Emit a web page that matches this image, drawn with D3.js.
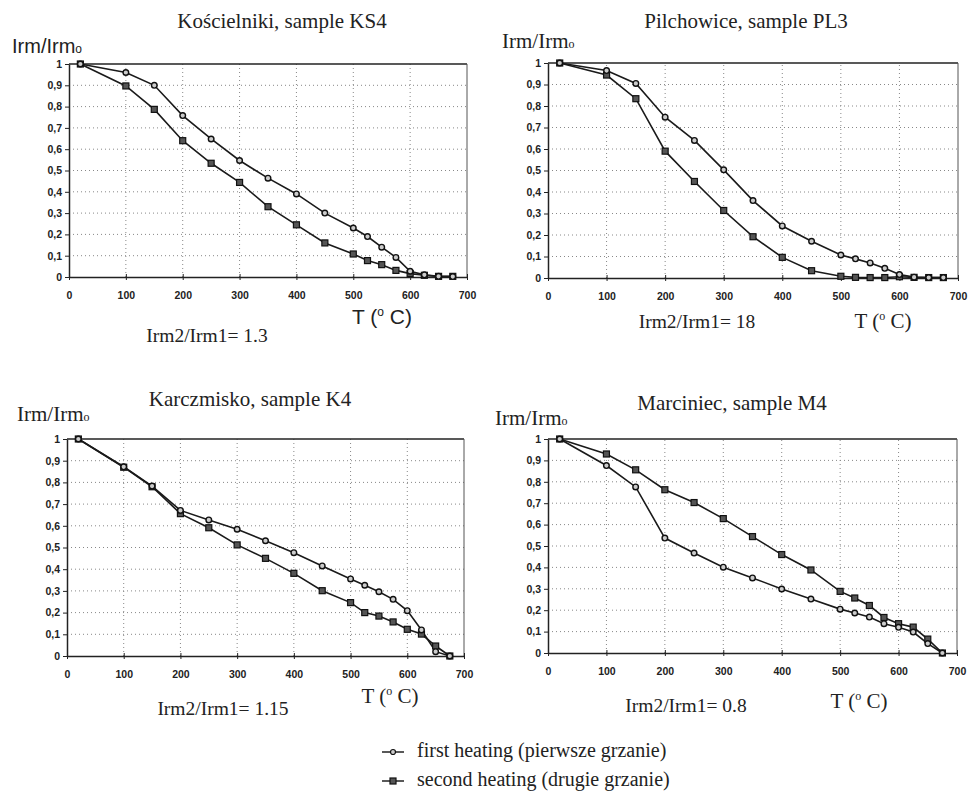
<!DOCTYPE html>
<html>
<head>
<meta charset="utf-8">
<script src="https://cdn.jsdelivr.net/npm/d3@7"></script>
<style>
  body { margin: 0; background: #fff; }
  svg { display: block; }
  .serif { font-family: "Liberation Serif", "Times New Roman", serif; fill: #222; }
  .sans { font-family: "Liberation Sans", Arial, sans-serif; fill: #222; }
  .tick text { font-family: "Liberation Sans", Arial, sans-serif; font-weight: bold; font-size: 10.5px; fill: #222; }
</style>
</head>
<body>
<svg id="chart" width="968" height="791"></svg>
<script>
// temperatures of the heating steps (deg C)
const temps = [20, 100, 150, 200, 250, 300, 350, 400, 450, 500, 525, 550, 575, 600, 625, 650, 675];

// Koscielniki KS4
const ks4First  = [1, 0.96, 0.90, 0.758, 0.648, 0.547, 0.464, 0.39, 0.30, 0.23, 0.19, 0.14, 0.092, 0.027, 0.01, 0.003, 0.002];
const ks4Second = [1, 0.897, 0.787, 0.64, 0.534, 0.444, 0.33, 0.245, 0.16, 0.108, 0.077, 0.058, 0.031, 0.016, 0.008, 0.003, 0.003];

// Pilchowice PL3
const pl3First  = [1, 0.965, 0.905, 0.748, 0.64, 0.503, 0.36, 0.242, 0.171, 0.107, 0.089, 0.07, 0.045, 0.016, 0.004, 0.002, 0.002];
const pl3Second = [1, 0.944, 0.834, 0.59, 0.449, 0.314, 0.192, 0.096, 0.034, 0.008, 0.003, 0.002, 0.002, 0.006, 0.003, 0.002, 0.002];

// Karczmisko K4
const k4First  = [1, 0.872, 0.783, 0.671, 0.627, 0.584, 0.531, 0.476, 0.415, 0.355, 0.326, 0.296, 0.261, 0.209, 0.12, 0.02, 0];
const k4Second = [1, 0.87, 0.78, 0.656, 0.591, 0.512, 0.45, 0.381, 0.301, 0.246, 0.20, 0.184, 0.157, 0.123, 0.101, 0.046, 0];

// Marciniec M4
const m4First  = [1, 0.876, 0.776, 0.537, 0.467, 0.401, 0.351, 0.299, 0.252, 0.205, 0.187, 0.168, 0.137, 0.12, 0.098, 0.044, 0];
const m4Second = [1, 0.93, 0.856, 0.763, 0.703, 0.628, 0.544, 0.46, 0.388, 0.288, 0.257, 0.222, 0.166, 0.137, 0.121, 0.065, 0];

const xTicks = [0, 100, 200, 300, 400, 500, 600, 700];
const yTicks = [0, 0.1, 0.2, 0.3, 0.4, 0.5, 0.6, 0.7, 0.8, 0.9, 1];
const yTickLabels = ["0", "0,1", "0,2", "0,3", "0,4", "0,5", "0,6", "0,7", "0,8", "0,9", "1"];

const titles = ["Kościelniki, sample KS4", "Pilchowice,  sample PL3", "Karczmisko, sample K4", "Marciniec, sample M4"];
const ratios = ["Irm2/Irm1= 1.3", "Irm2/Irm1= 18", "Irm2/Irm1= 1.15", "Irm2/Irm1= 0.8"];
const legendLabels = ["first heating (pierwsze grzanie)", "second heating (drugie grzanie)"];

const panels = [
  { first: ks4First, second: ks4Second, x0: 69, x1: 467, y0: 277, y1: 64,
    titleX: 282, titleY: 28, labX: 12, labY: 53, sansLab: true,
    tX: 382, tY: 324, rX: 207, rY: 342 },
  { first: pl3First, second: pl3Second, x0: 548, x1: 958, y0: 278, y1: 63,
    titleX: 746, titleY: 28, labX: 502, labY: 48, sansLab: false,
    tX: 883, tY: 328, rX: 697, rY: 328 },
  { first: k4First, second: k4Second, x0: 67, x1: 464, y0: 656, y1: 439,
    titleX: 250, titleY: 406, labX: 17, labY: 421, sansLab: false,
    tX: 390, tY: 703, rX: 223, rY: 715 },
  { first: m4First, second: m4Second, x0: 548, x1: 957, y0: 653, y1: 439,
    titleX: 732, titleY: 410, labX: 495, labY: 425, sansLab: false,
    tX: 859, tY: 708, rX: 686, rY: 712 }
];

const svg = d3.select("#chart");

function drawPanel(p, i) {
  let g = svg.append("g");

  let xScale = d3.scaleLinear().domain([0, 700]).range([p.x0, p.x1]);
  let yScale = d3.scaleLinear().domain([0, 1]).range([p.y0, p.y1]);

  // dotted grid
  g.append("g").selectAll("line.vg")
    .data(xTicks.slice(1, -1))
    .join("line")
      .attr("x1", d => xScale(d)).attr("x2", d => xScale(d))
      .attr("y1", p.y0).attr("y2", p.y1)
      .attr("stroke", "#888").attr("stroke-width", 1)
      .attr("stroke-dasharray", "1,3");
  g.append("g").selectAll("line.hg")
    .data(yTicks.slice(1, -1))
    .join("line")
      .attr("x1", p.x0).attr("x2", p.x1)
      .attr("y1", d => yScale(d)).attr("y2", d => yScale(d))
      .attr("stroke", "#888").attr("stroke-width", 1)
      .attr("stroke-dasharray", "1,3");

  // frame: top and right
  g.append("line")
    .attr("x1", p.x0).attr("x2", p.x1).attr("y1", p.y1).attr("y2", p.y1)
    .attr("stroke", "#222").attr("stroke-width", 1.5);
  g.append("line")
    .attr("x1", p.x1).attr("x2", p.x1).attr("y1", p.y1).attr("y2", p.y0)
    .attr("stroke", "#555").attr("stroke-width", 1);

  // axes
  let yAxis = d3.axisLeft(yScale)
    .tickValues(yTicks)
    .tickFormat((d, k) => yTickLabels[k])
    .tickSizeInner(4).tickSizeOuter(0).tickPadding(3);
  g.append("g")
    .attr("transform", "translate(" + p.x0 + ",0)")
    .call(yAxis)
    .call(a => a.select(".domain").attr("stroke", "#222").attr("stroke-width", 1.5))
    .call(a => a.selectAll(".tick line").attr("stroke", "#222"));

  let xAxis = d3.axisBottom(xScale)
    .tickValues(xTicks)
    .tickSizeInner(3).tickSizeOuter(0).tickPadding(12);
  g.append("g")
    .attr("transform", "translate(0," + p.y0 + ")")
    .call(xAxis)
    .call(a => a.select(".domain").attr("stroke", "#222").attr("stroke-width", 1.5))
    .call(a => a.selectAll(".tick line").attr("y1", -3).attr("stroke", "#222"));

  // curves
  let line = d3.line()
    .x((d, k) => xScale(temps[k]))
    .y(d => yScale(d));

  g.append("path").datum(p.first)
    .attr("d", line).attr("fill", "none")
    .attr("stroke", "#1a1a1a").attr("stroke-width", 1.6);
  g.append("path").datum(p.second)
    .attr("d", line).attr("fill", "none")
    .attr("stroke", "#1a1a1a").attr("stroke-width", 1.6);

  g.append("g").selectAll("rect")
    .data(p.second)
    .join("rect")
      .attr("x", (d, k) => xScale(temps[k]) - 3)
      .attr("y", d => yScale(d) - 3)
      .attr("width", 6).attr("height", 6)
      .attr("fill", "#555").attr("stroke", "#111").attr("stroke-width", 1.2);
  g.append("g").selectAll("circle")
    .data(p.first)
    .join("circle")
      .attr("cx", (d, k) => xScale(temps[k]))
      .attr("cy", d => yScale(d))
      .attr("r", 2.8)
      .attr("fill", "#ccc").attr("stroke", "#111").attr("stroke-width", 1.4);

  // texts
  g.append("text").attr("class", "serif")
    .attr("x", p.titleX).attr("y", p.titleY)
    .attr("text-anchor", "middle").attr("font-size", 21)
    .text(titles[i]);

  let lab = g.append("text")
    .attr("class", p.sansLab ? "sans" : "serif")
    .attr("x", p.labX).attr("y", p.labY)
    .attr("font-size", p.sansLab ? 20 : 21);
  lab.append("tspan").text("Irm/Irm");
  lab.append("tspan").attr("font-size", 12).text("o");

  let tl = g.append("text")
    .attr("class", p.sansLab ? "sans" : "serif")
    .attr("x", p.tX).attr("y", p.tY)
    .attr("text-anchor", "middle").attr("font-size", 21);
  tl.append("tspan").text("T (");
  tl.append("tspan").attr("font-size", 12).attr("dy", -8).text("o");
  tl.append("tspan").attr("dy", 8).text(" C)");

  g.append("text").attr("class", "serif")
    .attr("x", p.rX).attr("y", p.rY)
    .attr("text-anchor", "middle").attr("font-size", 19.5)
    .text(ratios[i]);
}

panels.forEach(drawPanel);

// legend
let legend = svg.append("g").attr("transform", "translate(382,0)");
let legendY = [752, 781];
legendLabels.forEach((lbl, k) => {
  let row = legend.append("g").attr("transform", "translate(0," + legendY[k] + ")");
  row.append("line").attr("x1", 0).attr("x2", 22).attr("y1", 0).attr("y2", 0)
    .attr("stroke", "#222").attr("stroke-width", 1.5);
  if (k === 0) {
    row.append("circle").attr("cx", 11).attr("cy", 0).attr("r", 2.5)
      .attr("fill", "#ccc").attr("stroke", "#111").attr("stroke-width", 1.2);
  } else {
    row.append("rect").attr("x", 8).attr("y", -3).attr("width", 6).attr("height", 6)
      .attr("fill", "#555").attr("stroke", "#111").attr("stroke-width", 1.2);
  }
  row.append("text").attr("class", "serif")
    .attr("x", 35).attr("y", 5).attr("font-size", 20)
    .text(lbl);
});
</script>
</body>
</html>
